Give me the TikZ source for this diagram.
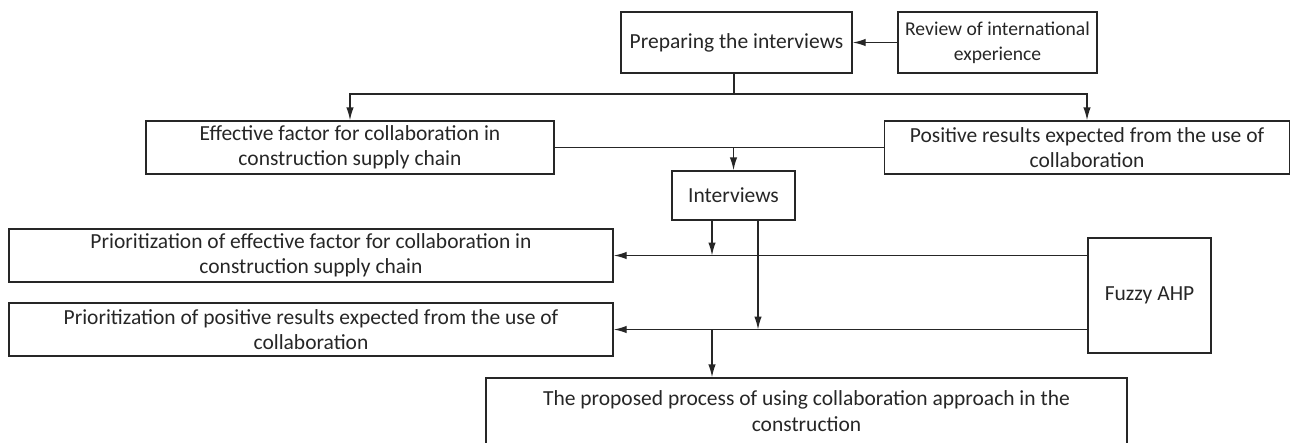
\documentclass[tikz,border=0pt]{standalone}
\usepackage{fontspec}
\setmainfont{Carlito}
\usetikzlibrary{arrows.meta}
\definecolor{ln}{HTML}{262626}
\tikzset{
  box/.style={draw=ln, line width=1.4pt, align=center, inner sep=0pt,
    font=\fontsize{21.5}{25.5}\selectfont, text=ln},
  arr/.style={draw=ln, line width=1.4pt, -{Latex[length=13pt,width=7.5pt]}},
  ln/.style={draw=ln, line width=1.4pt}
}
\begin{document}
\begin{tikzpicture}[x=1pt,y=-1pt]
\useasboundingbox (0,0) rectangle (1290,442);
\node[box, minimum width=231pt, minimum height=61pt] (prep) at (736.5,42.5) {Preparing the interviews};
\node[box, minimum width=199pt, minimum height=61pt, font=\fontsize{19.6}{25}\selectfont] (review) at (997.5,42.5) {Review of international\\experience};
\node[box, minimum width=408pt, minimum height=53pt] (eff) at (350,147.5) {Effective factor for collaboration in\\construction supply chain};
\node[box, minimum width=405pt, minimum height=53pt] (pos) at (1087,147.5) {Positive results expected from the use of\\collaboration};
\node[box, minimum width=123pt, minimum height=49pt] (inter) at (733.5,195.5) {Interviews};
\node[box, minimum width=604pt, minimum height=53pt] (p1) at (311,255.5) {Prioritization of effective factor for collaboration in\\construction supply chain};
\node[box, minimum width=604pt, minimum height=53pt] (p2) at (311,329.5) {Prioritization of positive results expected from the use of\\collaboration};
\node[box, minimum width=123pt, minimum height=115pt] (fuzzy) at (1149.5,295.5) {Fuzzy AHP};
\node[box, minimum width=641pt, minimum height=66pt] (prop) at (806.5,411) {The proposed process of using collaboration approach in the\\construction};

\draw[arr] (review.west) -- (prep.east);
\coordinate (j1) at (734,94);
\draw[ln] (prep.south -| j1) -- (j1);
\draw[arr] (j1) -| (eff.north);
\draw[arr] (j1) -| (pos.north);
\draw[ln] (eff.east) -- (pos.west);
\draw[arr] (inter.north |- eff.east) -- (inter.north);
\draw[arr] (fuzzy.west |- p1.east) -- (p1.east);
\draw[arr] (fuzzy.west |- p2.east) -- (p2.east);
\coordinate (a1) at (712,255.5);
\draw[arr] (inter.south -| a1) -- (a1);
\coordinate (a2) at (758,329.5);
\draw[arr] (inter.south -| a2) -- (a2);
\coordinate (a3) at (712,329.5);
\draw[arr] (a3) -- (a3 |- prop.north);
\end{tikzpicture}
\end{document}
